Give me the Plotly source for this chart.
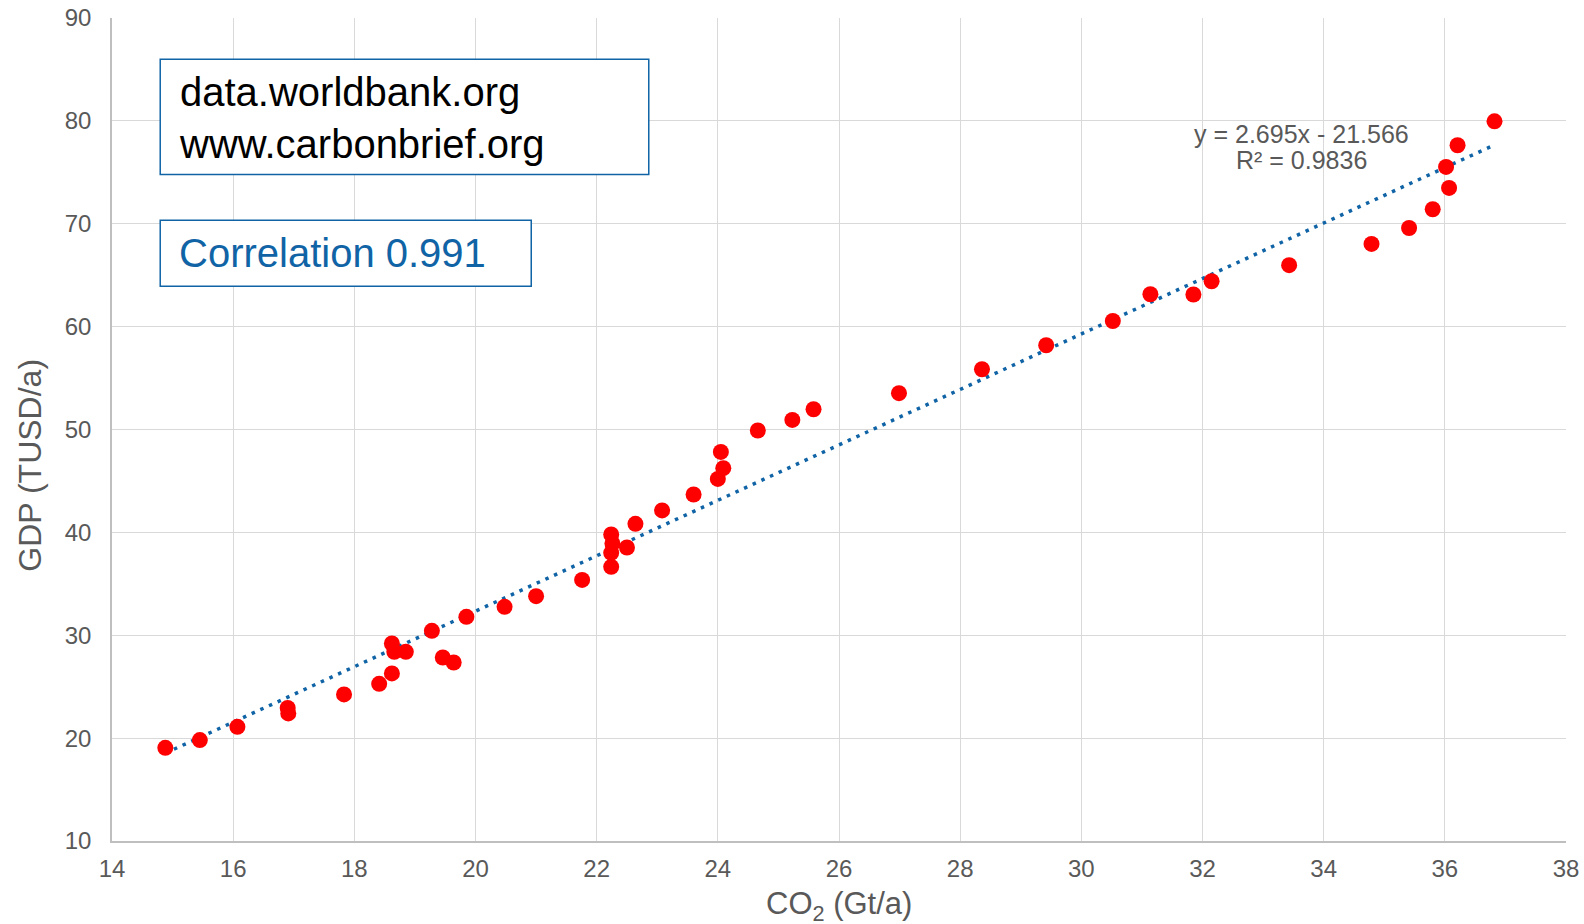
import plotly.graph_objects as go

# Data
co2 = [14.88, 15.45, 16.07, 16.90, 16.91, 17.83, 18.41, 18.62, 18.62, 18.66,
       18.85, 19.28, 19.46, 19.64, 19.85, 20.48, 21.00, 21.76, 22.24, 22.24,
       22.26, 22.24, 22.50, 22.64, 23.08, 23.60, 24.00, 24.09, 24.05, 24.66,
       25.23, 25.58, 26.99, 28.36, 29.42, 30.52, 31.14, 31.85, 32.15, 33.43,
       34.79, 35.41, 35.80, 36.07, 36.02, 36.21, 36.82]
gdp = [19.06, 19.81, 21.10, 22.94, 22.40, 24.25, 25.28, 26.29, 29.20, 28.39,
       28.39, 30.43, 27.84, 27.35, 31.79, 32.76, 33.80, 35.38, 36.65, 38.01,
       38.92, 39.80, 38.53, 40.83, 42.13, 43.68, 45.20, 46.24, 47.82, 49.90,
       50.93, 51.97, 53.53, 55.86, 58.19, 60.55, 63.15, 63.12, 64.41, 65.97,
       68.04, 69.59, 71.41, 73.48, 75.52, 77.63, 79.96]

slope = 2.695
intercept = -21.566
r_squared = 0.9836
correlation = 0.991

x_ticks = [14, 16, 18, 20, 22, 24, 26, 28, 30, 32, 34, 36, 38]
y_ticks = [10, 20, 30, 40, 50, 60, 70, 80, 90]

FONT = "Arial, Liberation Sans, sans-serif"
GREY = "#595959"
BLUE = "#1064A6"

trend_x = [min(co2), max(co2)]
trend_y = [slope * v + intercept for v in trend_x]

fig = go.Figure()
fig.add_trace(go.Scatter(
    x=trend_x, y=trend_y, mode="lines",
    line=dict(color=BLUE, width=3.5, dash="3.5px,6px"),
    hoverinfo="skip", showlegend=False))
fig.add_trace(go.Scatter(
    x=co2, y=gdp, mode="markers",
    marker=dict(color="#FF0000", size=16, line=dict(width=0)),
    showlegend=False))

fig.update_layout(
    width=1584, height=924,
    margin=dict(l=112, r=18, t=18, b=83, autoexpand=False),
    paper_bgcolor="white", plot_bgcolor="white",
    font=dict(family=FONT, color=GREY),
    xaxis=dict(range=[14, 38], tickvals=x_ticks, ticktext=[str(v) for v in x_ticks],
               showgrid=True, gridcolor="#D9D9D9", gridwidth=1.3,
               showline=True, linecolor="#BFBFBF", linewidth=1.5,
               zeroline=False, tickfont=dict(size=24, color=GREY),
               ticks="", ticklabelstandoff=5, automargin=False,
               ticklabeloverflow="allow"),
    yaxis=dict(range=[10, 90], tickvals=y_ticks, ticktext=[str(v) for v in y_ticks],
               showgrid=True, gridcolor="#D9D9D9", gridwidth=1.3,
               showline=True, linecolor="#BFBFBF", linewidth=1.5,
               zeroline=False, tickfont=dict(size=24, color=GREY),
               ticks="", ticklabelstandoff=14, automargin=False,
               ticklabeloverflow="allow"),
)

# Boxes
fig.add_shape(type="rect", xref="x", yref="y", x0=14.796, x1=22.86, y0=74.78, y1=85.99,
              line=dict(color=BLUE, width=1.5), fillcolor="white", layer="above")
fig.add_shape(type="rect", xref="x", yref="y", x0=14.796, x1=20.92, y0=63.93, y1=70.34,
              line=dict(color=BLUE, width=1.5), fillcolor="white", layer="above")

fig.add_annotation(xref="x", yref="y", x=15.077, y=80.3, xanchor="left", yanchor="middle",
                   text="data.worldbank.org<br>www.carbonbrief.org", align="left",
                   showarrow=False, font=dict(family=FONT, size=40, color="black"))
fig.add_annotation(xref="x", yref="y", x=15.08, y=67.13, xanchor="left", yanchor="middle",
                   text=f"Correlation {correlation}", align="left",
                   showarrow=False, font=dict(family=FONT, size=40, color=BLUE))

# Trendline equation
fig.add_annotation(xref="x", yref="y", x=33.64, y=78.77, xanchor="center", yanchor="middle",
                   text=f"y = {slope}x - {abs(intercept)}", showarrow=False,
                   font=dict(family=FONT, size=25, color=GREY))
fig.add_annotation(xref="x", yref="y", x=33.64, y=76.21, xanchor="center", yanchor="middle",
                   text=f"R² = {r_squared}", showarrow=False,
                   font=dict(family=FONT, size=25, color=GREY))

# Axis titles
fig.add_annotation(xref="paper", yref="paper", x=0.5, y=-0.079, xanchor="center", yanchor="middle",
                   text="CO<sub>2</sub> (Gt/a)", showarrow=False,
                   font=dict(family=FONT, size=31, color=GREY))
fig.add_annotation(xref="paper", yref="paper", x=-0.0561, y=0.4565, xanchor="center", yanchor="middle",
                   text="GDP (TUSD/a)", textangle=-90, showarrow=False,
                   font=dict(family=FONT, size=32, color=GREY))

fig.write_html("out.html",
               config={"displayModeBar": False},
               post_script="document.body.style.margin='0';document.body.style.overflow='hidden';")
